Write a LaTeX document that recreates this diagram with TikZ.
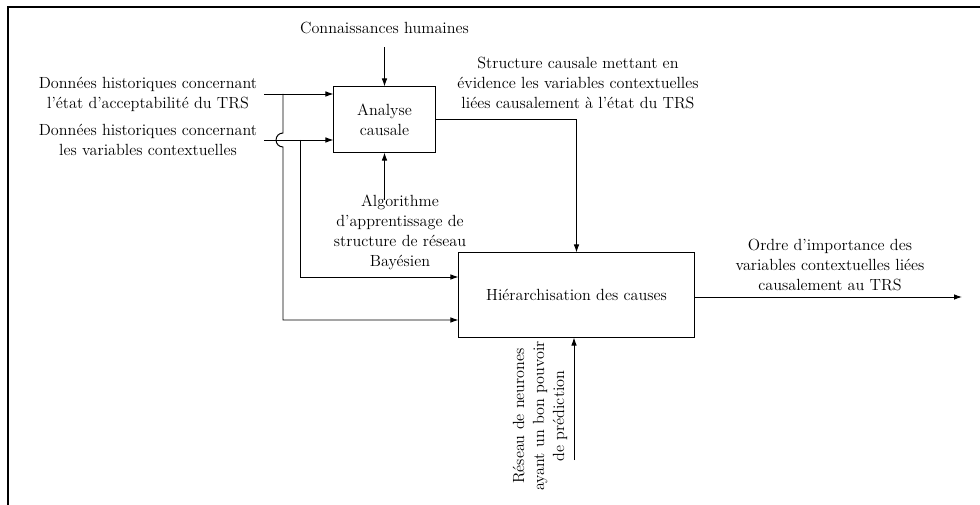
\documentclass[tikz,border=0pt]{standalone}
\usepackage{tikz}
\usetikzlibrary{arrows.meta, positioning, calc}

\begin{document}
\begin{tikzpicture}[
    x=0.025cm, y=-0.025cm,
    font=\fontsize{11.5}{14.2}\selectfont,
    box/.style={draw, line width=0.7pt, align=center, inner sep=0pt},
    label/.style={align=center, inner sep=0pt},
    link/.style={line width=0.7pt},
    arrow/.style={link, -{Latex[length=2mm, width=1.4mm]}},
  ]
  \useasboundingbox (0,0) rectangle (980,505);

  % Frame
  \draw[line width=1.3pt] (8,505) -- (8,7) -- (980,7);

  % Activities
  \node[box, minimum width=2.525cm, minimum height=1.625cm] (analyse) at (384.5,119.5) {Analyse\\causale};
  \node[box, minimum width=5.875cm, minimum height=2.1cm] (hier) at (576.5,295) {Hiérarchisation des causes};

  % Controls and mechanisms
  \node[label, above=1.3cm of analyse] (connaissances) {Connaissances humaines};
  \node[label] (algo) at (400,232) {Algorithme\\d'apprentissage de\\structure de réseau\\Bayésien};
  \node[label, rotate=90] (reseau) at (540,416) {Réseau de neurones\\ayant un bon pouvoir\\de prédiction};

  % Inputs
  \node[label] (donnees1) at (148,94) {Données historiques concernant\\l'état d'acceptabilité du TRS};
  \node[label] (donnees2) at (148,140) {Données historiques concernant\\les variables contextuelles};
  \coordinate (in1) at (264,94);
  \coordinate (in2) at (264,140);
  \coordinate (split1) at (283,94);
  \coordinate (split2) at (300,140);

  % Outputs
  \node[label] (structure) at (578,83) {Structure causale mettant en\\évidence les variables contextuelles\\liées causalement à l'état du TRS};
  \node[label] (ordre) at (830,265) {Ordre d'importance des\\variables contextuelles liées\\causalement au TRS};
  \coordinate (out) at (962,297);
  \coordinate (nn) at (574,460);

  % Arrows into Analyse causale
  \draw[arrow, shorten <=9pt] (connaissances.south) -- (analyse.north);
  \draw[arrow] (in1) -- (in1 -| analyse.west);
  \draw[arrow] (in2) -- (in2 -| analyse.west);
  \draw[arrow] ([yshift=-4pt]algo.north -| analyse.south) -- (analyse.south);

  % Arrows into Hiérarchisation des causes
  \draw[arrow] (split1) -- ++(0,39) arc[start angle=270, end angle=90, radius=7]
    -- (split1 |- 0,320) -- (hier.west |- 0,320);
  \draw[arrow] (split2) -- (split2 |- 0,277) -- (hier.west |- 0,277);
  \draw[arrow] (analyse.east) -| (hier.north);
  \draw[arrow] (nn) -- (nn |- hier.south);

  % Result
  \draw[arrow] (hier.east |- out) -- (out);

\end{tikzpicture}
\end{document}
